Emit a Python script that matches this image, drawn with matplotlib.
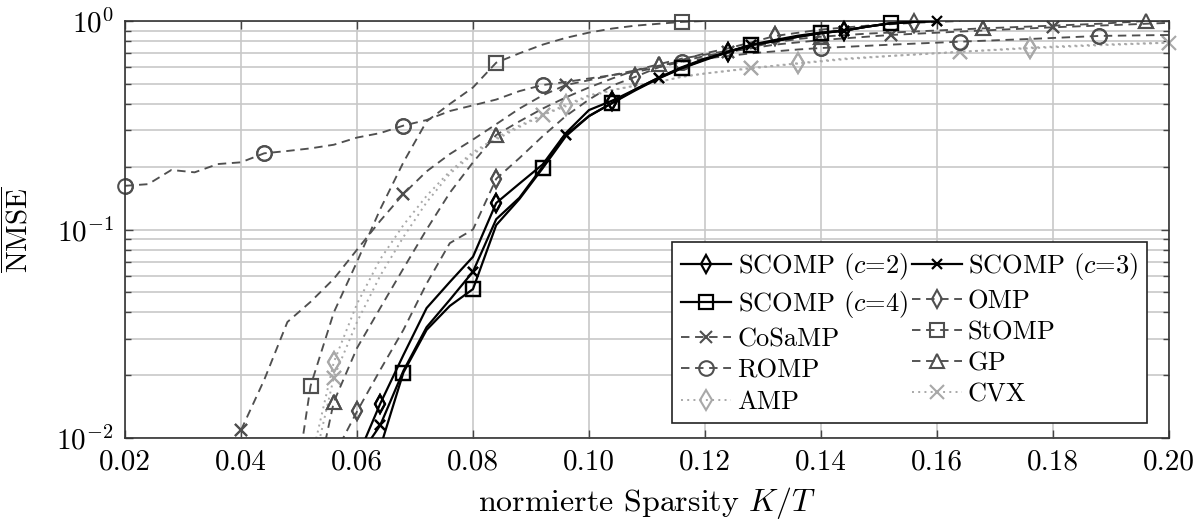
import numpy as np
import matplotlib
matplotlib.use("Agg")
import matplotlib.pyplot as plt
import matplotlib.ticker as mticker

plt.rcParams["font.family"] = "serif"
plt.rcParams["font.serif"] = ["cmr10"]
plt.rcParams["mathtext.fontset"] = "cm"
plt.rcParams["axes.unicode_minus"] = False
plt.rcParams["axes.formatter.use_mathtext"] = True

# ── data ─────────────────────────────────────────────────────────────────
x_sc = [0.060, 0.064, 0.068, 0.072, 0.076, 0.080, 0.084, 0.088, 0.092, 0.096,
        0.100, 0.104, 0.108, 0.112, 0.116, 0.120, 0.124, 0.128, 0.132, 0.136,
        0.140, 0.144, 0.148, 0.152, 0.156, 0.160]
scomp2 = [0.008, 0.0146, 0.025, 0.042, 0.056, 0.074, 0.134, 0.166, 0.205, 0.29,
          0.374, 0.415, 0.47, 0.535, 0.60, 0.66, 0.712, 0.77, 0.81, 0.85,
          0.88, 0.90, 0.94, 0.975, 0.99, 1.0]
scomp3 = [0.0079, 0.0115, 0.021, 0.034, 0.046, 0.0628, 0.112, 0.142, 0.20, 0.284,
          0.35, 0.405, 0.47, 0.533, 0.595, 0.655, 0.71, 0.767, 0.80, 0.84,
          0.875, 0.90, 0.94, 0.975, 0.99, 1.0]
scomp4 = [0.006, 0.009, 0.0206, 0.033, 0.043, 0.0518, 0.105, 0.14, 0.1965, 0.28,
          0.35, 0.404, 0.465, 0.53, 0.593, 0.65, 0.71, 0.767, 0.80, 0.84,
          0.873, 0.90, 0.94, 0.975, 0.99, 1.0]

x_omp = [0.056, 0.060, 0.064, 0.068, 0.072, 0.076, 0.080, 0.084, 0.088, 0.092,
         0.096, 0.100, 0.104, 0.108, 0.112, 0.116, 0.120, 0.124, 0.128, 0.132,
         0.140, 0.148, 0.156, 0.164]
omp = [0.0082, 0.0134, 0.0212, 0.033, 0.055, 0.086, 0.10, 0.175, 0.22, 0.28,
       0.35, 0.42, 0.49, 0.54, 0.60, 0.65, 0.70, 0.74, 0.79, 0.847,
       0.91, 0.95, 0.98, 1.0]

x_cosamp = [0.040, 0.044, 0.048, 0.052, 0.056, 0.060, 0.064, 0.068, 0.072, 0.076,
            0.080, 0.084, 0.088, 0.092, 0.096, 0.100, 0.104, 0.108, 0.112, 0.116,
            0.120, 0.124, 0.132, 0.140, 0.152, 0.164, 0.180, 0.192, 0.200]
cosamp = [0.0109, 0.019, 0.036, 0.045, 0.058, 0.08, 0.11, 0.148, 0.19, 0.23,
          0.27, 0.32, 0.38, 0.44, 0.493, 0.52, 0.55, 0.58, 0.61, 0.64,
          0.68, 0.71, 0.77, 0.81, 0.857, 0.89, 0.933, 0.96, 0.98]

x_stomp = [0.0504, 0.052, 0.056, 0.060, 0.064, 0.068, 0.072, 0.076, 0.080, 0.084,
           0.088, 0.092, 0.096, 0.100, 0.104, 0.108, 0.112, 0.116, 0.120]
stomp = [0.009, 0.0178, 0.04, 0.07, 0.125, 0.21, 0.33, 0.40, 0.48, 0.631,
         0.70, 0.77, 0.83, 0.88, 0.92, 0.95, 0.97, 0.99, 1.0]

x_romp = [0.020, 0.024, 0.028, 0.032, 0.036, 0.040, 0.044, 0.048, 0.052, 0.056,
          0.060, 0.064, 0.068, 0.072, 0.076, 0.080, 0.084, 0.088, 0.092, 0.096,
          0.100, 0.104, 0.108, 0.112, 0.116, 0.120, 0.128, 0.136, 0.140, 0.152,
          0.164, 0.176, 0.188, 0.200]
romp = [0.162, 0.165, 0.193, 0.188, 0.206, 0.21, 0.232, 0.238, 0.245, 0.255,
        0.276, 0.29, 0.315, 0.335, 0.37, 0.394, 0.42, 0.461, 0.493, 0.51,
        0.53, 0.55, 0.57, 0.60, 0.638, 0.66, 0.70, 0.73, 0.742, 0.77,
        0.796, 0.82, 0.848, 0.857]

x_gp = [0.052, 0.056, 0.060, 0.064, 0.068, 0.072, 0.076, 0.080, 0.084, 0.088,
        0.092, 0.096, 0.100, 0.104, 0.108, 0.112, 0.116, 0.120, 0.124, 0.128,
        0.132, 0.136, 0.140, 0.148, 0.156, 0.168, 0.180, 0.188, 0.196, 0.200]
gp = [0.0045, 0.0149, 0.027, 0.042, 0.065, 0.10, 0.15, 0.21, 0.284, 0.33,
      0.38, 0.43, 0.48, 0.53, 0.58, 0.62, 0.66, 0.69, 0.72, 0.75,
      0.79, 0.82, 0.841, 0.87, 0.89, 0.922, 0.95, 0.97, 1.0, 1.0]

x_amp = [0.052, 0.056, 0.060, 0.064, 0.068, 0.072, 0.076, 0.080, 0.084, 0.088,
         0.092, 0.096, 0.100, 0.104, 0.108, 0.112, 0.116, 0.120, 0.128, 0.136,
         0.144, 0.152, 0.160, 0.176, 0.188, 0.200]
amp = [0.0076, 0.0231, 0.044, 0.072, 0.105, 0.145, 0.19, 0.235, 0.275, 0.315,
       0.355, 0.396, 0.44, 0.467, 0.49, 0.51, 0.54, 0.56, 0.595, 0.627,
       0.66, 0.68, 0.70, 0.745, 0.77, 0.787]

x_cvx = [0.052, 0.056, 0.060, 0.064, 0.068, 0.072, 0.076, 0.080, 0.084, 0.088,
         0.092, 0.096, 0.100, 0.104, 0.108, 0.112, 0.116, 0.120, 0.128, 0.136,
         0.144, 0.152, 0.164, 0.176, 0.188, 0.200]
cvx = [0.0064, 0.0195, 0.036, 0.060, 0.092, 0.135, 0.185, 0.23, 0.27, 0.31,
       0.354, 0.39, 0.435, 0.465, 0.49, 0.51, 0.54, 0.56, 0.593, 0.625,
       0.655, 0.68, 0.712, 0.74, 0.765, 0.787]

# marker positions (x values)
mk_sc2 = [0.064, 0.084, 0.104, 0.124, 0.144]
mk_sc3 = [0.064, 0.080, 0.096, 0.112, 0.128, 0.144, 0.160]
mk_sc4 = [0.068, 0.080, 0.092, 0.104, 0.116, 0.128, 0.140, 0.152]
mk_omp = [0.060, 0.084, 0.108, 0.132, 0.156]
mk_cosamp = [0.040, 0.068, 0.096, 0.124, 0.152, 0.180]
mk_stomp = [0.052, 0.084, 0.116]
mk_romp = [0.020, 0.044, 0.068, 0.092, 0.116, 0.140, 0.164, 0.188]
mk_gp = [0.056, 0.084, 0.112, 0.140, 0.168, 0.196]
mk_amp = [0.056, 0.096, 0.136, 0.176]
mk_cvx = [0.056, 0.092, 0.128, 0.164, 0.200]

BLACK = "black"
DARK = "#4f4f4f"
LIGHT = "#a8a8a8"
DASH = (0, (4.5, 3))
DOT = (0, (1, 2.2))


def idx(xs, marks):
    xs = np.asarray(xs)
    return [int(np.argmin(np.abs(xs - m))) for m in marks]


series = [
    # x, y, marks, label, color, ls, marker, ms, lw
    (x_sc, scomp2, mk_sc2, "SCOMP ($c$=2)", BLACK, "-", "d", 9, 1.6),
    (x_sc, scomp4, mk_sc4, "SCOMP ($c$=4)", BLACK, "-", "s", 10.5, 1.6),
    (x_cosamp, cosamp, mk_cosamp, "CoSaMP", DARK, DASH, "x", 9, 1.35),
    (x_romp, romp, mk_romp, "ROMP", DARK, DASH, "o", 10.5, 1.35),
    (x_amp, amp, mk_amp, "AMP", LIGHT, DOT, "d", 10, 1.4),
    (x_sc, scomp3, mk_sc3, "SCOMP ($c$=3)", BLACK, "-", "x", 7.5, 1.6),
    (x_omp, omp, mk_omp, "OMP", DARK, DASH, "d", 9, 1.35),
    (x_stomp, stomp, mk_stomp, "StOMP", DARK, DASH, "s", 10.5, 1.35),
    (x_gp, gp, mk_gp, "GP", DARK, DASH, "^", 9.5, 1.35),
    (x_cvx, cvx, mk_cvx, "CVX", LIGHT, DOT, "x", 10, 1.4),
]

fig = plt.figure(figsize=(12.03, 5.21), dpi=100)
ax = fig.add_axes([125 / 1203, 1 - 438 / 521, 1044 / 1203, 417 / 521])
ax.set_yscale("log")
ax.set_xlim(0.02, 0.20)
ax.set_ylim(0.01, 1.0)

# draw order: background methods first, SCOMP on top
order = [4, 9, 2, 3, 6, 7, 8, 0, 5, 1]
handles = {}
for i in order:
    xs, ys, mk, lab, col, ls, m, ms, lw = series[i]
    mew = 1.6 if col == BLACK else 1.5
    h, = ax.plot(xs, ys, color=col, ls=ls, lw=lw, marker=m, ms=ms,
                 mfc="none", mec=col, mew=mew, markevery=idx(xs, mk),
                 label=lab, zorder=3 if col == BLACK else 2)
    ii = idx(xs, mk)
    ax.plot(np.asarray(xs)[ii], np.asarray(ys)[ii], ls="none", marker=m, ms=ms,
            mfc="none", mec=col, mew=mew, clip_on=False,
            zorder=3 if col == BLACK else 2)
    handles[i] = h

ax.xaxis.set_major_locator(mticker.MultipleLocator(0.02))
ax.xaxis.set_major_formatter(mticker.FormatStrFormatter("%.2f"))
ax.yaxis.set_major_locator(mticker.LogLocator(base=10, numticks=5))
ax.yaxis.set_minor_locator(mticker.LogLocator(base=10, subs=np.arange(2, 10), numticks=20))
ax.yaxis.set_minor_formatter(mticker.NullFormatter())
ax.grid(True, which="major", color="#c8c8c8", lw=1.2, zorder=0)
ax.grid(True, which="minor", axis="y", color="#c8c8c8", lw=1.2, zorder=0)
ax.set_axisbelow(True)
ax.tick_params(which="both", direction="in", top=True, right=True,
               labelsize=21, color="#444444", pad=8)
ax.tick_params(which="major", length=6, width=1)
ax.tick_params(which="minor", length=4, width=1)
for s in ax.spines.values():
    s.set_color("#333333")
    s.set_linewidth(1.2)

ax.set_xlabel("normierte Sparsity $K/T$", fontsize=23, labelpad=7)
ax.set_ylabel(r"$\overline{\mathrm{NMSE}}$", fontsize=21, labelpad=16)

leg = ax.legend([handles[i] for i in range(10)], [series[i][3] for i in range(10)],
                ncol=2, loc="lower right", bbox_to_anchor=(0.979, 0.036),
                borderaxespad=0, fontsize=19, frameon=True, fancybox=False,
                edgecolor="#222222", framealpha=1, handlelength=1.9,
                handletextpad=0.23, columnspacing=0.15, labelspacing=0.28,
                borderpad=0.35)
leg.get_frame().set_linewidth(1.2)
leg.set_zorder(5)

fig.savefig("out.png", dpi=100)
